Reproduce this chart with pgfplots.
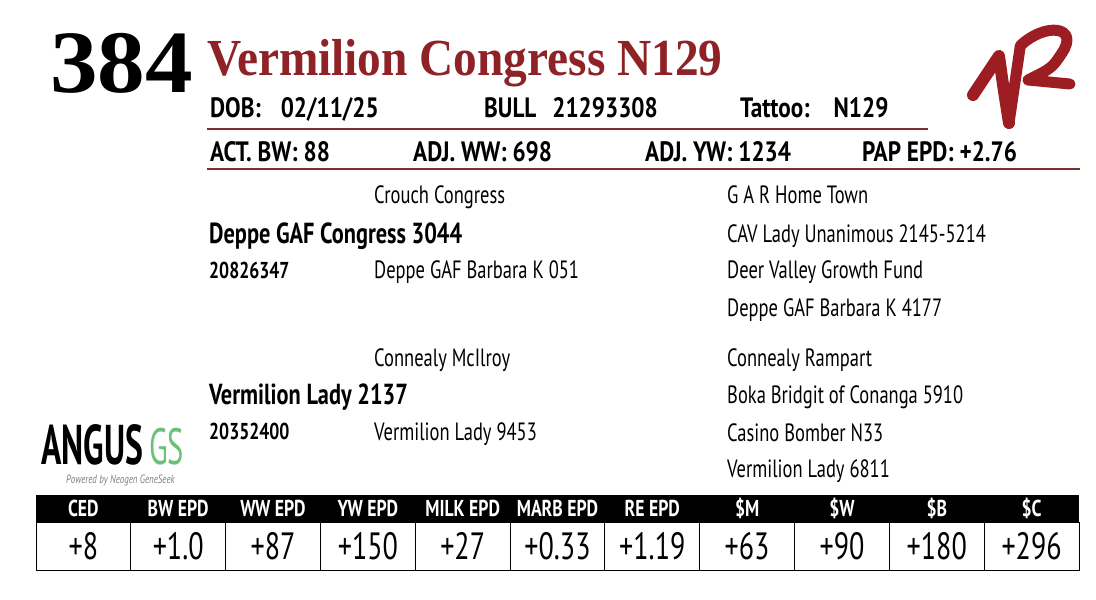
\documentclass[border=0pt]{standalone}
\usepackage{fontspec}
\setmainfont{PT Sans}[FakeStretch=0.74]
\newfontfamily\pedbfont{PT Sans}[FakeStretch=0.77]
\newfontfamily\hdrfont{PT Sans}[FakeStretch=0.83]
\newfontfamily\serifb{Liberation Serif}[FakeStretch=0.91]
\newfontfamily\lotfont{Liberation Serif}[FakeStretch=1.07]
\newfontfamily\logofont{PT Sans}[FakeStretch=0.6]
\usepackage{pgfplots}
\usepackage{pgfplotstable}
\pgfplotsset{compat=1.18}
\definecolor{titlered}{HTML}{8E2226}
\definecolor{linered}{HTML}{7B2E2E}
\definecolor{logored}{HTML}{9D1E22}
\definecolor{gsgreen}{HTML}{6CC07A}
\pgfplotstableread{
x y label
83.4 508 CED
178.2 508 {BW EPD}
273.0 508 {WW EPD}
367.9 508 {YW EPD}
462.7 508 {MILK EPD}
557.5 508 {MARB EPD}
652.3 508 {RE EPD}
747.1 508 \$M
842.0 508 \$W
936.8 508 \$B
1031.6 508 \$C
}\headers
\pgfplotstableread{
x y label
83.4 546 +8
178.2 546 +1.0
273.0 546 +87
367.9 546 +150
462.7 546 +27
557.5 546 +0.33
652.3 546 +1.19
747.1 546 +63
842.0 546 +90
936.8 546 +180
1031.6 546 +296
}\values
\begin{document}
\begin{tikzpicture}
\begin{axis}[
  scale only axis, width=1096pt, height=600pt,
  xmin=0, xmax=1096, ymin=0, ymax=600, y dir=reverse,
  axis lines=none, ticks=none, clip=false,
]
\fill[white] (rel axis cs:0,0) rectangle (rel axis cs:1,1);
% lot number and title
\node[anchor=base west, inner sep=0, font=\lotfont\bfseries\fontsize{89}{89}\selectfont] at (axis cs:50,92) {384};
\node[anchor=base west, inner sep=0, text=titlered, font=\serifb\bfseries\fontsize{52}{52}\selectfont] at (axis cs:207,75) {Vermilion Congress N129};
% info rows
\tikzset{hdr/.style={anchor=base west, inner sep=0, font=\hdrfont\bfseries\fontsize{28}{28}\selectfont}}
\node[hdr] at (axis cs:210,117) {DOB:\hspace{20pt}02/11/25};
\node[hdr] at (axis cs:484,117) {BULL\hspace{16pt}21293308};
\node[hdr] at (axis cs:740,117) {Tattoo:\hspace{24pt}N129};
\draw[linered, line width=1.3pt] (axis cs:207,129) -- (axis cs:928,129);
\node[hdr] at (axis cs:210,161) {ACT. BW: 88};
\node[hdr] at (axis cs:413,161) {ADJ. WW: 698};
\node[hdr] at (axis cs:645,161) {ADJ. YW: 1234};
\node[hdr] at (axis cs:862,161) {PAP EPD: +2.76};
\draw[linered, line width=1.3pt] (axis cs:207,169) -- (axis cs:1080,169);
% pedigree
\tikzset{ped/.style={anchor=base west, inner sep=0, font=\fontsize{25}{25}\selectfont},
         pedb/.style={anchor=base west, inner sep=0, font=\pedbfont\bfseries\fontsize{29}{29}\selectfont},
         reg/.style={anchor=base west, inner sep=0, font=\pedbfont\bfseries\fontsize{23}{23}\selectfont}}
\node[ped] at (axis cs:374,203) {Crouch Congress};
\node[pedb] at (axis cs:209,243) {Deppe GAF Congress 3044};
\node[reg] at (axis cs:209,278) {20826347};
\node[ped] at (axis cs:374,278) {Deppe GAF Barbara K 051};
\node[ped] at (axis cs:727,203) {G A R Home Town};
\node[ped] at (axis cs:727,242) {CAV Lady Unanimous 2145-5214};
\node[ped] at (axis cs:727,278) {Deer Valley Growth Fund};
\node[ped] at (axis cs:727,316) {Deppe GAF Barbara K 4177};
\node[ped] at (axis cs:374,366) {Connealy McIlroy};
\node[pedb] at (axis cs:209,404) {Vermilion Lady 2137};
\node[reg] at (axis cs:209,439) {20352400};
\node[ped] at (axis cs:374,440) {Vermilion Lady 9453};
\node[ped] at (axis cs:727,366) {Connealy Rampart};
\node[ped] at (axis cs:727,403) {Boka Bridgit of Conanga 5910};
\node[ped] at (axis cs:727,441) {Casino Bomber N33};
\node[ped] at (axis cs:727,477) {Vermilion Lady 6811};
% Angus GS logo
\node[anchor=base west, inner sep=0, font=\logofont\bfseries\fontsize{56}{56}\selectfont] at (axis cs:41,464) {ANGUS};
\node[anchor=base west, inner sep=0, text=gsgreen, font=\logofont\fontsize{51}{51}\selectfont] at (axis cs:149,464) {GS};
\node[anchor=base west, inner sep=0, text=gray, font=\itshape\fontsize{12}{12}\selectfont] at (axis cs:66,483) {Powered by Neogen GeneSeek};
% 1R logo
\draw[logored, line width=12pt, line cap=round, line join=round] (axis cs:973,95) -- (axis cs:999,56) .. controls (axis cs:1003,85) .. (axis cs:1009,123);
\draw[logored, line width=11pt, line cap=round, line join=round] (axis cs:1009,123) -- (axis cs:1020,48);
\draw[logored, line width=11pt, line cap=round, line join=round] (axis cs:1020,46) .. controls (axis cs:1045,22) and (axis cs:1080,26) .. (axis cs:1062,53) .. controls (axis cs:1052,68) .. (axis cs:1028,80) -- (axis cs:1070,84);
% EPD table
\fill[black] (axis cs:36,495) rectangle (axis cs:1079,522);
\draw[black, line width=1pt] (axis cs:36,522) rectangle (axis cs:1079,570);
\draw[black, line width=1pt] (axis cs:130.8,522) -- (axis cs:130.8,570);
\draw[black, line width=1pt] (axis cs:225.6,522) -- (axis cs:225.6,570);
\draw[black, line width=1pt] (axis cs:320.5,522) -- (axis cs:320.5,570);
\draw[black, line width=1pt] (axis cs:415.3,522) -- (axis cs:415.3,570);
\draw[black, line width=1pt] (axis cs:510.1,522) -- (axis cs:510.1,570);
\draw[black, line width=1pt] (axis cs:604.9,522) -- (axis cs:604.9,570);
\draw[black, line width=1pt] (axis cs:699.7,522) -- (axis cs:699.7,570);
\draw[black, line width=1pt] (axis cs:794.5,522) -- (axis cs:794.5,570);
\draw[black, line width=1pt] (axis cs:889.4,522) -- (axis cs:889.4,570);
\draw[black, line width=1pt] (axis cs:984.2,522) -- (axis cs:984.2,570);
\addplot[draw=none, mark=none, nodes near coords={\pgfplotspointmeta}, point meta=explicit symbolic,
  every node near coord/.append style={anchor=center, text=white, font=\pedbfont\bfseries\fontsize{23}{23}\selectfont}]
  table[x=x, y=y, meta=label] {\headers};
\addplot[draw=none, mark=none, nodes near coords={\pgfplotspointmeta}, point meta=explicit symbolic,
  every node near coord/.append style={anchor=center, text=black, font=\fontsize{38}{38}\selectfont}]
  table[x=x, y=y, meta=label] {\values};
\end{axis}
\end{tikzpicture}
\end{document}
